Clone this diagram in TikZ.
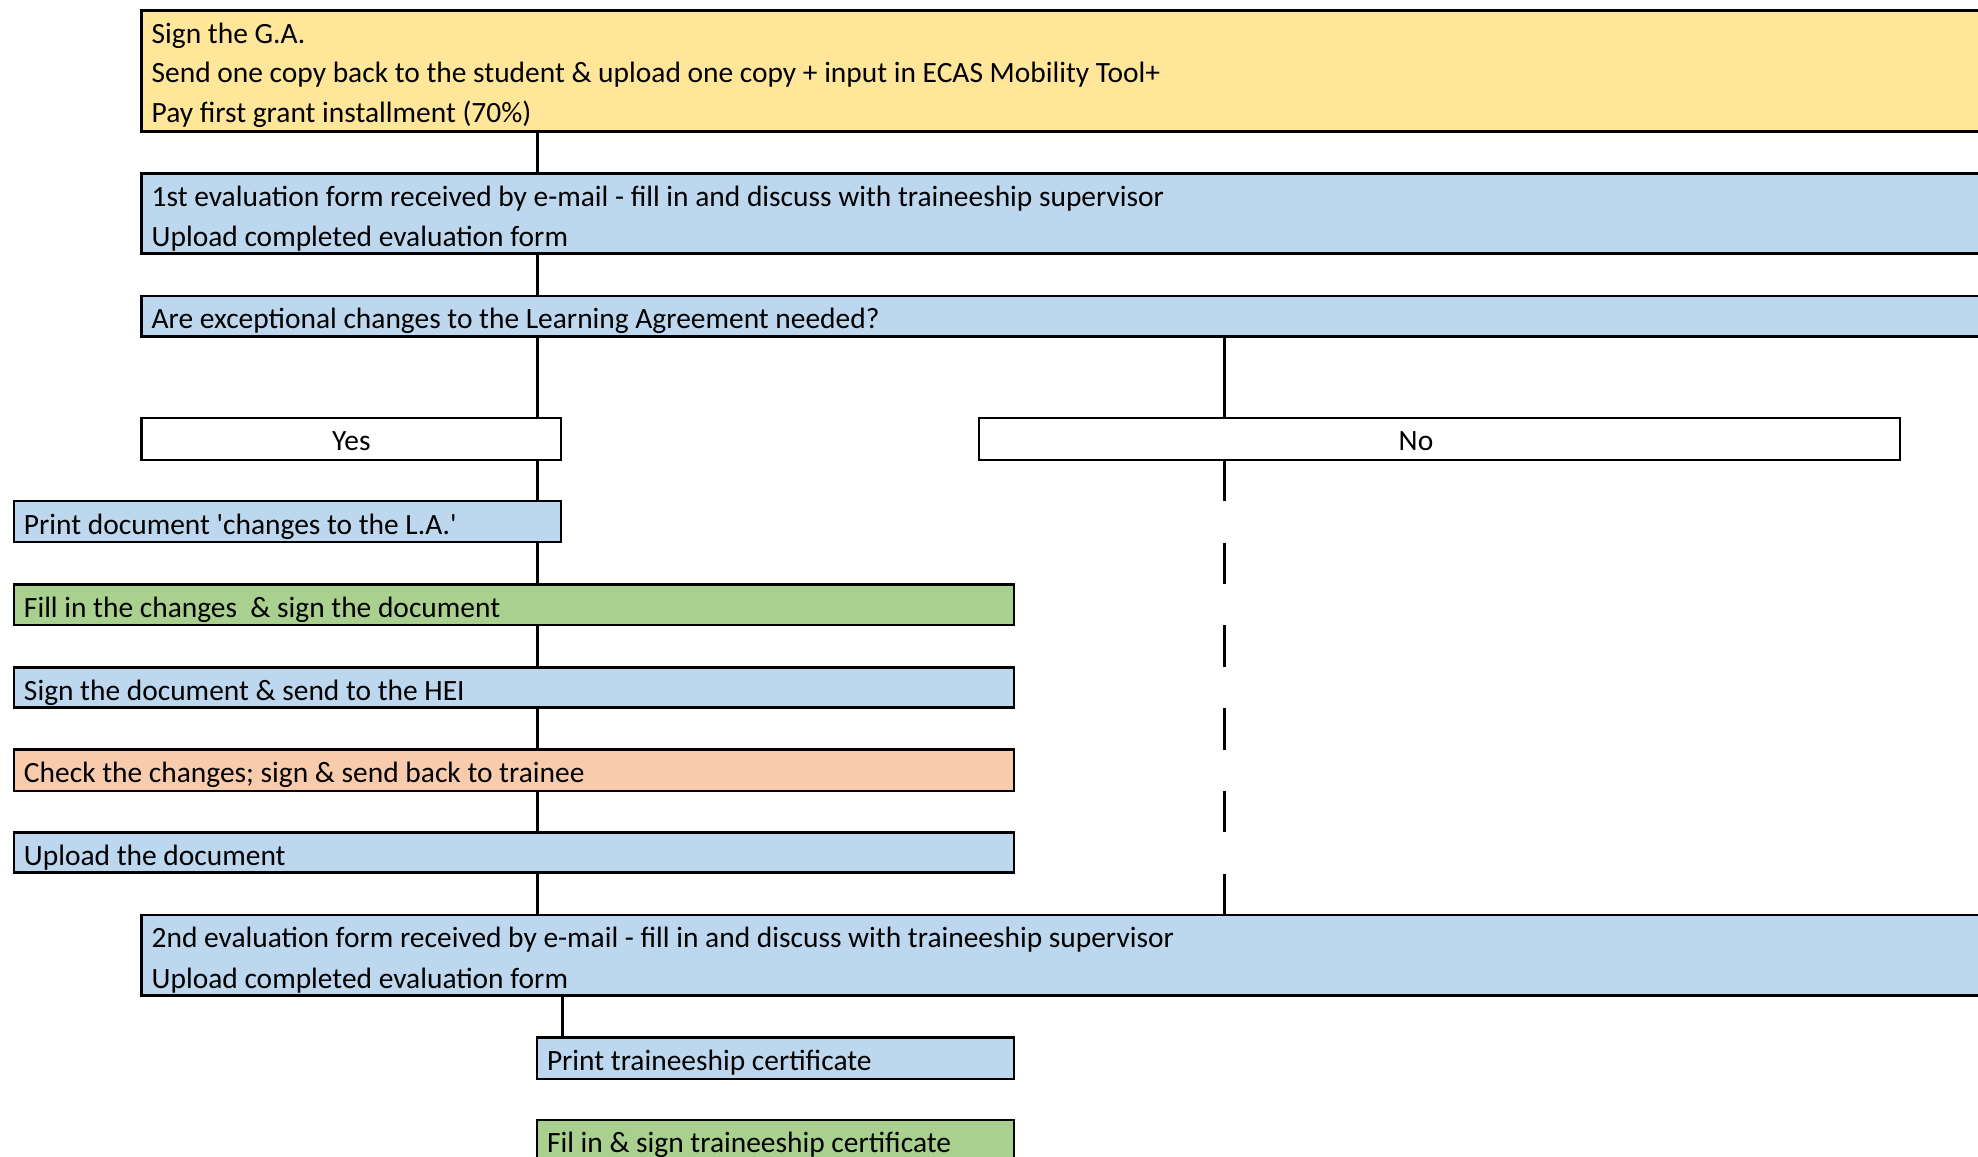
\documentclass[tikz,border=0pt]{standalone}
\usepackage{fontspec}
\setmainfont{Carlito}
\usetikzlibrary{fit}
\definecolor{cyellow}{HTML}{FFE699}
\definecolor{cblue}{HTML}{BDD7EE}
\definecolor{cgreen}{HTML}{A9D08E}
\definecolor{corange}{HTML}{F8CBAD}
\begin{document}
\begin{tikzpicture}[x=0.5pt,y=-0.5pt,
  box/.style={draw=black, line width=1.35pt, rectangle, inner sep=0pt, outer sep=0pt},
  txt/.style={anchor=base west, inner sep=0pt, outer sep=0pt, font=\fontsize{14.72pt}{20pt}\selectfont},
  ctxt/.style={anchor=base, inner sep=0pt, outer sep=0pt, font=\fontsize{14.72pt}{20pt}\selectfont},
  link/.style={draw=black, line width=1.35pt},
  dlink/.style={link, dash pattern=on 20.68pt off 20.68pt}]
\useasboundingbox (0,0) rectangle (1978,1157);
\clip (0,0) rectangle (1978,1157);
\fill[white] (0,0) rectangle (1978,1157);

% boxes
\node[box, fill=cyellow, fit={(141.7,10.3) (2010,131.7)}] (ga) {};
\node[box, fill=cblue, fit={(141.7,173.3) (2010,253.3)}] (eval1) {};
\node[box, fill=cblue, fit={(141.7,296) (2010,336.7)}] (are) {};
\node[box, fill=white, fit={(141.7,418) (561,460)}] (yes) {};
\node[box, fill=white, fit={(979,418) (1900,460)}] (no) {};
\node[box, fill=cblue, fit={(14,501) (561,542)}] (print) {};
\node[box, fill=cgreen, fit={(14,584.3) (1014,625)}] (fill) {};
\node[box, fill=cblue, fit={(14,667.3) (1014,707.7)}] (sign) {};
\node[box, fill=corange, fit={(14,749.3) (1014,791)}] (check) {};
\node[box, fill=cblue, fit={(14,832.3) (1014,872.7)}] (upload) {};
\node[box, fill=cblue, fit={(141.7,915) (2010,995.7)}] (eval2) {};
\node[box, fill=cblue, fit={(537,1037.3) (1014,1079)}] (pcert) {};
\node[box, fill=cgreen, fit={(537,1120) (1014,1162)}] (scert) {};

% texts
\node[txt] (ga1) at (151.7,43) {Sign the G.A.};
\node[txt] (ga2) at (151.7,82.7) {Send one copy back to the student \& upload one copy + input in ECAS Mobility Tool+};
\node[txt] (ga3) at (151.7,122.5) {Pay first grant installment (70\%)};
\node[txt] (e11) at (151.7,206) {1st evaluation form received by e-mail - fill in and discuss with traineeship supervisor};
\node[txt] (e12) at (151.7,246) {Upload completed evaluation form};
\node[txt] (are1) at (151.7,328.5) {Are exceptional changes to the Learning Agreement needed?};
\node[ctxt] (yes1) at (351.4,450.8) {Yes};
\node[ctxt] (no1) at (1416,450.8) {No};
\node[txt] (pr1) at (24,534) {Print document \textquotesingle changes to the L.A.\textquotesingle};
\node[txt] (fi1) at (24,617) {Fill in the changes\ \ \& sign the document};
\node[txt] (si1) at (24,700) {Sign the document \& send to the HEI};
\node[txt] (ch1) at (24,782) {Check the changes; sign \& send back to trainee};
\node[txt] (up1) at (24,865) {Upload the document};
\node[txt] (e21) at (151.7,947.7) {2nd evaluation form received by e-mail - fill in and discuss with traineeship supervisor};
\node[txt] (e22) at (151.7,988) {Upload completed evaluation form};
\node[txt] (pc1) at (547,1070) {Print traineeship certificate};
\node[txt] (sc1) at (547,1152.5) {Fil in \& sign traineeship certificate};

% connectors
\coordinate (cx1) at (537.7,0);
\coordinate (cx2) at (1224.3,0);
\coordinate (cx3) at (562.3,0);
\draw[link] (ga.south -| cx1) -- (eval1.north -| cx1);
\draw[link] (eval1.south -| cx1) -- (are.north -| cx1);
\draw[link] (are.south -| cx1) -- (yes.north -| cx1);
\draw[link] (are.south -| cx2) -- (no.north -| cx2);
\draw[link] (yes.south -| cx1) -- (print.north -| cx1);
\draw[link] (print.south -| cx1) -- (fill.north -| cx1);
\draw[link] (fill.south -| cx1) -- (sign.north -| cx1);
\draw[link] (sign.south -| cx1) -- (check.north -| cx1);
\draw[link] (check.south -| cx1) -- (upload.north -| cx1);
\draw[link] (upload.south -| cx1) -- (eval2.north -| cx1);
\draw[dlink] (no.south -| cx2) -- (eval2.north -| cx2);
\draw[link] (eval2.south -| cx3) -- (pcert.north -| cx3);
\end{tikzpicture}
\end{document}
